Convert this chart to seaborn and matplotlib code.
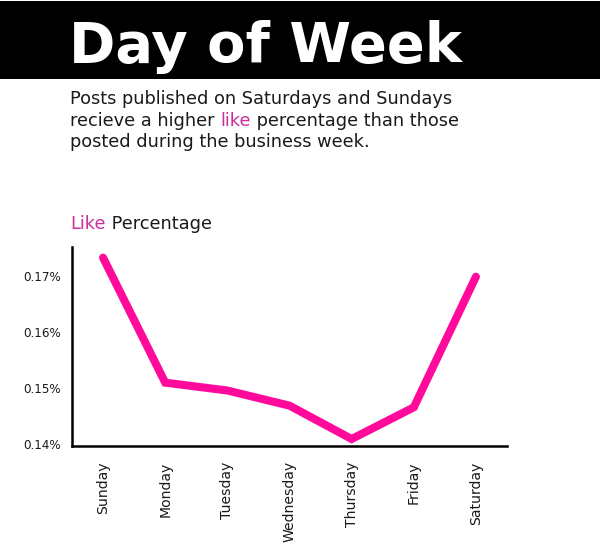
import matplotlib
matplotlib.use("Agg")
import matplotlib.pyplot as plt
import pandas as pd
import seaborn as sns
from matplotlib.patches import Rectangle
from matplotlib.ticker import FuncFormatter

# data
days = ["Sunday", "Monday", "Tuesday", "Wednesday", "Thursday", "Friday", "Saturday"]
like_pct = [0.1736, 0.1513, 0.1499, 0.1472, 0.14125, 0.1469, 0.1702]
yticks = [0.14, 0.15, 0.16, 0.17]

title = "Day of Week"
sub_lines = [
    [("Posts published on Saturdays and Sundays", "dark")],
    [("recieve a higher ", "dark"), ("like", "pink"), (" percentage than those", "dark")],
    [("posted during the business week.", "dark")],
]
ylabel_parts = [("Like", "pink"), (" Percentage", "dark")]

PINK = "#ff0a9a"
TEXT_PINK = "#cc2e9a"
DARK = "#1a1a1a"
colors = {"dark": DARK, "pink": TEXT_PINK}

sns.set_style("white")
plt.rcParams["font.family"] = ["DejaVu Sans"]

df = pd.DataFrame({"day": days, "like": like_pct})

fig = plt.figure(figsize=(6.0, 5.49), dpi=100)
W, H = 600, 549

# black title band
fig.add_artist(Rectangle((0, 1 - 79 / H), 1, 78 / H, transform=fig.transFigure,
                         facecolor="black", edgecolor="none", zorder=0))
fig.text(69 / W, 1 - 62 / H, title, color="white", fontsize=40.2, fontweight="bold",
         va="baseline", ha="left")

fig.canvas.draw()
renderer = fig.canvas.get_renderer()


def write_parts(parts, x, y, size):
    # write coloured pieces of text one after another on the same line
    for txt, c in parts:
        t = fig.text(x, y, txt, color=colors[c], fontsize=size, va="baseline", ha="left")
        bb = t.get_window_extent(renderer=renderer)
        x += bb.width / fig.bbox.width


base_y = [104, 126, 147]
for parts, by in zip(sub_lines, base_y):
    write_parts(parts, 70 / W, 1 - by / H, 12.8)

write_parts(ylabel_parts, 70 / W, 1 - 229 / H, 12.8)

ax = fig.add_axes([72 / W, 1 - 446 / H, 435 / W, 199 / H])
sns.lineplot(data=df, x="day", y="like", sort=False, ax=ax, color=PINK,
             linewidth=5.8, solid_capstyle="round", solid_joinstyle="miter")

ax.set_xlim(-0.5, 6.5)
ax.set_ylim(0.14, 0.1755)
ax.set_yticks(yticks)
ax.yaxis.set_major_formatter(FuncFormatter(lambda v, p: f"{v:.2f}%"))
ax.set_xlabel("")
ax.set_ylabel("")
ax.tick_params(axis="x", labelrotation=90, length=0, labelsize=10.1, colors=DARK, pad=11)
ax.tick_params(axis="y", length=0, labelsize=8.6, colors=DARK, pad=8)
for lab in ax.get_yticklabels():
    lab.set_verticalalignment("center")

sns.despine(ax=ax)
for s in ["left", "bottom"]:
    ax.spines[s].set_linewidth(1.8)
    ax.spines[s].set_color("black")
ax.grid(False)

fig.savefig("out.png", dpi=100, facecolor="white")
